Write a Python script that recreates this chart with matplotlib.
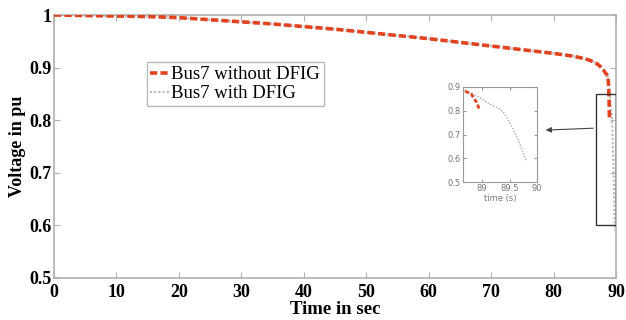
import matplotlib
matplotlib.use("Agg")
import matplotlib.pyplot as plt
from matplotlib.patches import Rectangle

# Data
t_without = [0, 5, 10, 15, 20, 25, 30, 35, 40, 45, 50, 55, 60, 65, 70, 75, 80, 83, 85,
             86, 87, 87.5, 88, 88.3, 88.5, 88.67, 88.8, 88.9, 88.95]
v_without = [1.0, 0.999, 0.998, 0.997, 0.995, 0.991, 0.987, 0.983, 0.978, 0.973, 0.967,
             0.961, 0.955, 0.948, 0.941, 0.934, 0.927, 0.922, 0.917, 0.913, 0.907, 0.902,
             0.895, 0.89, 0.887, 0.885, 0.87, 0.835, 0.805]
t_with = [0, 5, 10, 15, 20, 25, 30, 35, 40, 45, 50, 55, 60, 65, 70, 75, 80, 83, 85,
          86, 87, 87.5, 88, 88.3, 88.5, 88.67, 88.83, 89.0, 89.12, 89.3, 89.4, 89.48,
          89.55, 89.65, 89.72, 89.8]
v_with = [1.0, 0.999, 0.998, 0.997, 0.995, 0.991, 0.987, 0.983, 0.978, 0.973, 0.967,
          0.961, 0.955, 0.948, 0.941, 0.934, 0.927, 0.922, 0.917, 0.913, 0.907, 0.902,
          0.895, 0.89, 0.887, 0.885, 0.87, 0.85, 0.83, 0.81, 0.79, 0.76, 0.73, 0.68,
          0.64, 0.59]
labels = ["Bus7 without DFIG", "Bus7 with DFIG"]
x_ticks = [0, 10, 20, 30, 40, 50, 60, 70, 80, 90]
y_ticks = [0.5, 0.6, 0.7, 0.8, 0.9, 1.0]
y_ticklabels = ["0.5", "0.6", "0.7", "0.8", "0.9", "1"]
inset_xticks = [89, 89.5, 90]
inset_xticklabels = ["89", "89.5", "90"]
inset_yticks = [0.5, 0.6, 0.7, 0.8, 0.9]

red = "#e2431e"
gray = "#b8b8b8"
spine_c = "#b0b0b0"

fig = plt.figure(figsize=(6.26, 3.2), dpi=100)
ax = fig.add_axes([54/626, 42/320, 562/626, 263/320])

ax.plot(t_with, v_with, color=gray, lw=1.5, ls=(0, (1, 1)), label=labels[1], zorder=2)
ax.plot(t_without, v_without, color=red, lw=2.6, ls=(0, (2.0, 0.9)), label=labels[0], zorder=3)

ax.set_xlim(0, 90)
ax.set_ylim(0.5, 1.0)
ax.set_xticks(x_ticks)
ax.set_yticks(y_ticks)
ax.set_yticklabels(y_ticklabels)
for s in ax.spines.values():
    s.set_color(spine_c)
    s.set_linewidth(1.2)
ax.tick_params(direction="in", top=True, right=True, color=spine_c, length=4, pad=2)
ax.tick_params(axis="x", pad=4)
for lab in ax.get_xticklabels() + ax.get_yticklabels():
    lab.set_family("Liberation Serif")
    lab.set_fontweight("bold")
    lab.set_fontsize(13)
ax.set_xlabel("Time in sec", family="Liberation Serif", fontweight="bold", fontsize=13.5, labelpad=0)
ax.set_ylabel("Voltage in pu", family="Liberation Serif", fontweight="bold", fontsize=13, labelpad=2)

h, l = ax.get_legend_handles_labels()
leg = ax.legend([h[1], h[0]], [l[1], l[0]], loc="upper left", bbox_to_anchor=(0.165, 0.82),
                prop={"family": "Liberation Serif", "size": 13.5}, frameon=True, fancybox=False,
                handlelength=1.0, handletextpad=0.1, borderpad=0.2, labelspacing=0.1,
                borderaxespad=0)
leg.get_frame().set_edgecolor("#aaaaaa")
leg.get_frame().set_linewidth(1.0)

# zoom rectangle
ax.add_patch(Rectangle((86.8, 0.6), 3.2, 0.25, fill=False, ec="#333333", lw=1.0, zorder=4))
ax.annotate("", xy=(78.3, 0.781), xytext=(86.8, 0.785),
            arrowprops=dict(arrowstyle="-|>", color="#444444", lw=0.8, mutation_scale=8))

# inset
ins = fig.add_axes([463/626, 138/320, 74/626, 95/320])
ins.plot(t_with, v_with, color="#a8a8a8", lw=1.0, ls=(0, (1, 1.2)))
ins.plot(t_without, v_without, color=red, lw=2.0, ls=(0, (1.5, 0.8)))
ins.set_xlim(88.65, 90)
ins.set_ylim(0.5, 0.9)
ins.set_xticks(inset_xticks)
ins.set_xticklabels(inset_xticklabels)
ins.set_yticks(inset_yticks)
for s in ins.spines.values():
    s.set_color("#999999")
    s.set_linewidth(0.8)
ins.tick_params(direction="in", top=True, right=True, color="#999999", length=2,
                labelsize=6, labelcolor="#777777", pad=1.5)
ins.set_xlabel("time (s)", fontsize=6, color="#777777", labelpad=1)

fig.savefig("out.png", dpi=100)
